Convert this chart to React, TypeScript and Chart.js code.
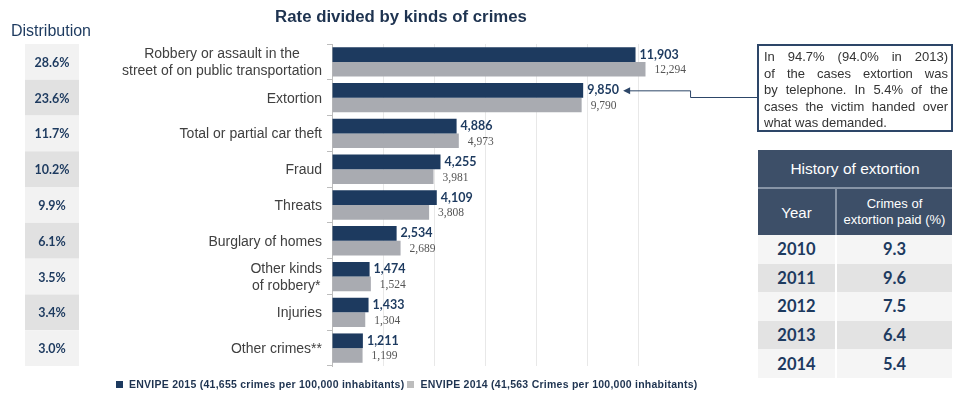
import React, { useEffect, useRef } from "react";
import { Chart, registerables } from "chart.js";

Chart.register(...registerables);

// ---------- data ----------
const categories: string[][] = [
  ["Robbery or assault in the", "street of on public transportation"],
  ["Extortion"],
  ["Total or partial car theft"],
  ["Fraud"],
  ["Threats"],
  ["Burglary of homes"],
  ["Other kinds", "of robbery*"],
  ["Injuries"],
  ["Other crimes**"],
];
const rate2015 = [11903, 9850, 4886, 4255, 4109, 2534, 1474, 1433, 1211];
const rate2014 = [12294, 9790, 4973, 3981, 3808, 2689, 1524, 1304, 1199];
const distribution = ["28.6%", "23.6%", "11.7%", "10.2%", "9.9%", "6.1%", "3.5%", "3.4%", "3.0%"];
const series2015Label = "ENVIPE 2015 (41,655 crimes per 100,000 inhabitants)";
const series2014Label = "ENVIPE 2014 (41,563 Crimes per 100,000 inhabitants)";
const chartTitle = "Rate divided by kinds of crimes";
const distributionTitle = "Distribution";
const noteLines = [
  "In 94.7% (94.0% in 2013)",
  "of the cases extortion was",
  "by telephone. In 5.4% of the",
  "cases the victim handed over",
  "what was demanded.",
];
const historyTitle = "History of extortion";
const historyYearHeader = "Year";
const historyPaidHeader = ["Crimes of", "extortion paid (%)"];
const historyYears = ["2010", "2011", "2012", "2013", "2014"];
const historyPaid = ["9.3", "9.6", "7.5", "6.4", "5.4"];

// ---------- styles ----------
const NAVY = "#1d3a5f";
const GRAY_BAR = "#a9abb1";
const SANS = "'Liberation Sans', Arial, sans-serif";
const NOTE_BOX = { left: 757, top: 44, width: 196, height: 88, anchorY: 97 };

const fmt = (v: number) => v.toLocaleString("en-US");

const decor = {
  id: "decor",
  afterDraw(chart: any) {
    const ctx = chart.ctx as CanvasRenderingContext2D;
    const y = chart.scales.y;
    const area = chart.chartArea;
    const band = Math.abs(y.getPixelForValue(1) - y.getPixelForValue(0));
    ctx.save();

    // category labels (lines centred on each other, block right-aligned)
    ctx.font = `14px ${SANS}`;
    ctx.fillStyle = "#404040";
    ctx.textBaseline = "middle";
    ctx.textAlign = "center";
    categories.forEach((lines, i) => {
      const cy = y.getPixelForValue(i);
      const maxW = Math.max(...lines.map((l) => ctx.measureText(l).width));
      const cx = area.left - 10 - maxW / 2;
      const lh = 17;
      lines.forEach((l, k) => {
        ctx.fillText(l, cx, cy + 1 + (k - (lines.length - 1) / 2) * lh);
      });
    });

    // distribution column
    ctx.font = `16px ${SANS}`;
    ctx.fillStyle = NAVY;
    ctx.fillText(distributionTitle, 51, 32);
    distribution.forEach((d, i) => {
      const cy = y.getPixelForValue(i);
      ctx.fillStyle = i % 2 === 0 ? "#f2f2f2" : "#e1e1e1";
      ctx.fillRect(25, cy - band / 2, 54, band);
      ctx.fillStyle = NAVY;
      ctx.font = `bold 12.5px Lato, ${SANS}`;
      ctx.fillText(d, 52, cy + 1);
    });

    // value labels
    const m0 = chart.getDatasetMeta(0);
    const m1 = chart.getDatasetMeta(1);
    ctx.textAlign = "left";
    let tip = { x: 0, y: 0 };
    m0.data.forEach((el: any, i: number) => {
      ctx.font = `bold 12.5px Lato, ${SANS}`;
      ctx.fillStyle = NAVY;
      const t = fmt(rate2015[i]);
      ctx.fillText(t, el.x + 4, el.y);
      if (i === 1) tip = { x: el.x + 4 + ctx.measureText(t).width + 4, y: el.y };
    });
    m1.data.forEach((el: any, i: number) => {
      ctx.font = `11.5px 'Liberation Serif', serif`;
      ctx.fillStyle = "#555555";
      ctx.fillText(fmt(rate2014[i]), el.x + 9, el.y + 1);
    });

    // connector arrow from note box to the Extortion value
    const knee = (tip.x + NOTE_BOX.left) / 2;
    ctx.strokeStyle = "#2d4668";
    ctx.lineWidth = 1;
    ctx.beginPath();
    ctx.moveTo(NOTE_BOX.left, NOTE_BOX.anchorY + 0.5);
    ctx.lineTo(knee + 0.5, NOTE_BOX.anchorY + 0.5);
    ctx.lineTo(knee + 0.5, tip.y + 0.5);
    ctx.lineTo(tip.x + 5, tip.y + 0.5);
    ctx.stroke();
    ctx.fillStyle = "#2d4668";
    ctx.beginPath();
    ctx.moveTo(tip.x, tip.y + 0.5);
    ctx.lineTo(tip.x + 7, tip.y - 3);
    ctx.lineTo(tip.x + 7, tip.y + 4);
    ctx.closePath();
    ctx.fill();

    ctx.restore();
  },
};

export default function App() {
  const ref = useRef<HTMLCanvasElement | null>(null);

  useEffect(() => {
    if (!ref.current) return;
    const chart = new Chart(ref.current, {
      type: "bar",
      data: {
        labels: categories.map((c) => c.join(" ")),
        datasets: [
          {
            label: series2015Label,
            data: rate2015,
            backgroundColor: NAVY,
            categoryPercentage: 0.82,
            barPercentage: 1,
          },
          {
            label: series2014Label,
            data: rate2014,
            backgroundColor: GRAY_BAR,
            categoryPercentage: 0.82,
            barPercentage: 1,
          },
        ],
      },
      options: {
        indexAxis: "y",
        responsive: false,
        animation: false,
        devicePixelRatio: 1,
        layout: { padding: { left: 0, right: 266, top: 44, bottom: 30 } },
        plugins: {
          legend: { display: false },
          tooltip: { enabled: false },
          title: { display: false },
        },
        scales: {
          x: {
            min: 0,
            max: 14000,
            ticks: { display: false, stepSize: 2000 },
            grid: {
              drawTicks: false,
              color: (c: any) =>
                c.tick && c.tick.value > 0 && c.tick.value < 14000 ? "#e8e8e8" : "rgba(0,0,0,0)",
            },
            border: { display: false },
          },
          y: {
            ticks: { display: false },
            grid: {
              offset: true,
              drawOnChartArea: false,
              drawTicks: true,
              tickLength: 5,
              color: "#bdbdbd",
            },
            border: { display: true, color: "#bdbdbd" },
            afterFit: (s: any) => {
              s.width = 332;
            },
          },
        },
      } as any,
      plugins: [decor],
    });
    return () => chart.destroy();
  }, []);

  const cellNum: React.CSSProperties = {
    fontFamily: `Lato, ${SANS}`,
    fontWeight: 700,
    fontSize: 16.5,
    color: NAVY,
    textAlign: "center",
    padding: 0,
  };

  return (
    <div
      style={{
        position: "absolute",
        left: 0,
        top: 0,
        width: 955,
        height: 396,
        background: "#ffffff",
        overflow: "hidden",
        fontFamily: SANS,
      }}
    >
      <canvas
        ref={ref}
        width={955}
        height={396}
        style={{ position: "absolute", left: 0, top: 0, width: 955, height: 396 }}
      />
      <div
        style={{
          position: "absolute",
          left: 0,
          top: 7,
          width: 802,
          textAlign: "center",
          fontWeight: 700,
          fontSize: 16.8,
          color: "#1e3350",
        }}
      >
        {chartTitle}
      </div>

      {/* note box */}
      <div
        style={{
          position: "absolute",
          left: NOTE_BOX.left,
          top: NOTE_BOX.top,
          width: NOTE_BOX.width,
          height: NOTE_BOX.height,
          boxSizing: "border-box",
          border: "2px solid #2d4668",
          padding: "3px 3px 0 5px",
          fontSize: 13,
          lineHeight: "16.5px",
          color: "#333333",
        }}
      >
        {noteLines.map((l, i) => (
          <div
            key={i}
            style={{
              textAlign: i < noteLines.length - 1 ? "justify" : "left",
              textAlignLast: i < noteLines.length - 1 ? "justify" : "left",
            } as React.CSSProperties}
          >
            {l}
          </div>
        ))}
      </div>

      {/* history table */}
      <table
        style={{
          position: "absolute",
          left: 758,
          top: 150,
          width: 194,
          borderCollapse: "collapse",
          tableLayout: "fixed",
        }}
      >
        <colgroup>
          <col style={{ width: 78 }} />
          <col style={{ width: 116 }} />
        </colgroup>
        <tbody>
          <tr style={{ height: 38, background: "#3d4f68" }}>
            <td
              colSpan={2}
              style={{
                color: "#ffffff",
                fontSize: 15.5,
                textAlign: "center",
                padding: 0,
                borderBottom: "2px solid #8794a6",
              }}
            >
              {historyTitle}
            </td>
          </tr>
          <tr style={{ height: 47, background: "#3d4f68" }}>
            <td
              style={{
                color: "#ffffff",
                fontSize: 15,
                textAlign: "center",
                padding: 0,
                borderRight: "2px solid #8794a6",
              }}
            >
              {historyYearHeader}
            </td>
            <td
              style={{
                color: "#ffffff",
                fontSize: 13,
                lineHeight: "16px",
                textAlign: "center",
                padding: 0,
              }}
            >
              {historyPaidHeader[0]}
              <br />
              {historyPaidHeader[1]}
            </td>
          </tr>
          {historyYears.map((yr, i) => (
            <tr key={yr} style={{ height: 28.6, background: i % 2 === 0 ? "#f5f5f5" : "#e3e3e3" }}>
              <td style={{ ...cellNum, borderRight: "2px solid #ffffff" }}>{yr}</td>
              <td style={cellNum}>{historyPaid[i]}</td>
            </tr>
          ))}
        </tbody>
      </table>

      {/* legend */}
      <div
        style={{
          position: "absolute",
          left: 116,
          top: 378,
          display: "flex",
          alignItems: "center",
          fontSize: 10.5,
          fontWeight: 700,
          letterSpacing: 0.25,
          color: "#1e3350",
          whiteSpace: "nowrap",
        }}
      >
        <span style={{ width: 7, height: 7, background: NAVY, display: "inline-block", marginRight: 6 }} />
        <span>{series2015Label}</span>
        <span
          style={{
            width: 7,
            height: 7,
            background: "#bdbdbd",
            display: "inline-block",
            marginLeft: 3,
            marginRight: 6,
          }}
        />
        <span>{series2014Label}</span>
      </div>
    </div>
  );
}
